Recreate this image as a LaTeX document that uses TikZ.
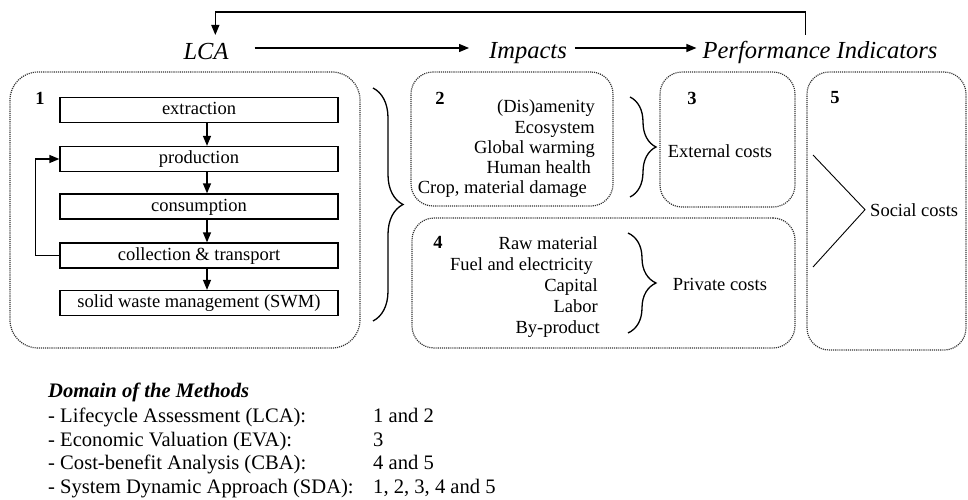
\documentclass[tikz,border=0pt]{standalone}
\usepackage{fontspec}
\setmainfont{Liberation Serif}
\usetikzlibrary{arrows.meta,decorations.pathreplacing}
\begin{document}
\begin{tikzpicture}[x=1pt,y=-1pt,
  main/.style={font=\fontsize{18.5}{22}\selectfont, inner sep=0pt},
  head/.style={font=\fontsize{24.5}{28}\selectfont\itshape, inner sep=0pt, anchor=base},
  num/.style={font=\fontsize{18.5}{22}\selectfont\bfseries, inner sep=0pt, anchor=base},
  item/.style={main, anchor=base east},
  flowbox/.style={draw, line width=1.3pt, minimum width=278pt, minimum height=25pt,
    inner sep=0pt, text height=12.5pt, text depth=3.5pt, font=\fontsize{18.5}{22}\selectfont},
  arr/.style={line width=1.3pt, -{Triangle[length=10pt,width=8pt]}},
  dotbox/.style={draw=black!80, line width=1.2pt, dash pattern=on 1.1pt off 1pt,
    rounded corners=22pt, inner sep=0pt},
  bracestyle/.style={decorate, line width=1.3pt, decoration={brace, amplitude=#1}},
  bottom/.style={font=\fontsize{20.6}{24}\selectfont, inner sep=0pt, anchor=base west},
]
\useasboundingbox (0,0) rectangle (968,500);

% headers
\node[head] (lca) at (206,60) {LCA};
\node[head] (imp) at (528,59) {Impacts};
\node[head] (pi) at (820,59) {Performance Indicators};
\draw[arr] ([xshift=26pt,yshift=12pt]lca.base east) -- ([xshift=-20pt,yshift=11pt]imp.base west);
\draw[arr] ([xshift=8pt,yshift=11pt]imp.base east) -- ([xshift=-6pt,yshift=11pt]pi.base west);
\draw[arr] ([xshift=103pt,yshift=24pt]pi.base west) -- ++(0,-23) -| ([xshift=32pt,yshift=25pt]lca.base west);

% dotted regions
\node[dotbox, rounded corners=28pt, minimum width=350pt, minimum height=276pt] (b1) at (185,210) {};
\node[dotbox, minimum width=202pt, minimum height=134pt] (b2) at (512,139) {};
\node[dotbox, minimum width=135pt, minimum height=135pt] (b3) at (727.5,139.5) {};
\node[dotbox, minimum width=383pt, minimum height=130pt] (b4) at (603.5,283) {};
\node[dotbox, minimum width=159pt, minimum height=278pt] (b5) at (886.5,211) {};

% numbers
\node[num] (n1) at (40,105) {1};
\node[num] (n2) at (440,105) {2};
\node[num] (n3) at (692,105) {3};
\node[num] (n4) at (438,248) {4};
\node[num] (n5) at (835,103) {5};

% flow
\node[flowbox] (ext) at (199,110) {extraction};
\node[flowbox] (prod) at (199,159) {production};
\node[flowbox] (cons) at (199,206.5) {consumption};
\node[flowbox] (coll) at (199,255.5) {collection \& transport};
\node[flowbox] (swm) at (199,303) {solid waste management (SWM)};
\draw[arr] ([xshift=8pt]ext.south) -- ([xshift=8pt]prod.north);
\draw[arr] ([xshift=8pt]prod.south) -- ([xshift=8pt]cons.north);
\draw[arr] ([xshift=8pt]cons.south) -- ([xshift=8pt]coll.north);
\draw[arr] ([xshift=8pt]coll.south) -- ([xshift=8pt]swm.north);
\draw[arr] (coll.west) -- ++(-24,0) |- (prod.west);

% big brace after box 1
\draw[bracestyle=30pt] (373,88) -- (373,321);

% impacts
\node[item] (i1) at (595,113) {(Dis)amenity};
\node[item] (i2) at (595,133) {Ecosystem};
\node[item] (i3) at (595,153) {Global warming};
\node[item] (i4) at (591,173) {Human health};
\node[item] (i5) at (587,193) {Crop, material damage};
\draw[bracestyle=26pt] (630,97) -- (630,197);
\node[main, anchor=base] (extc) at (720,157) {External costs};

% private
\node[item] (p1) at (598,249) {Raw material};
\node[item] (p2) at (593,270) {Fuel and electricity};
\node[item] (p3) at (598,291) {Capital};
\node[item] (p4) at (598,312) {Labor};
\node[item] (p5) at (600,333) {By-product};
\draw[bracestyle=28pt] (628,233) -- (628,333);
\node[main, anchor=base] (privc) at (720,290) {Private costs};

% social
\node[main, anchor=base west] (soc) at (870,216) {Social costs};
\coordinate (s1) at (813,155);
\coordinate (s2) at (813,267);
\draw[line width=0.9pt] (s1) -- ([xshift=-5pt]soc.west) -- (s2);

% bottom legend
\node[bottom, font=\fontsize{20.6}{24}\selectfont\bfseries\itshape] (dom) at (48,397) {Domain of the Methods};
\node[bottom] (m1) at (48,422) {- Lifecycle Assessment (LCA):};
\node[bottom] (m2) at (48,446) {- Economic Valuation (EVA):};
\node[bottom] (m3) at (48,469) {- Cost-benefit Analysis (CBA):};
\node[bottom] (m4) at (48,493) {- System Dynamic Approach (SDA):};
\node[bottom] (v1) at (373,422) {1 and 2};
\node[bottom] (v2) at (373,446) {3};
\node[bottom] (v3) at (373,469) {4 and 5};
\node[bottom] (v4) at (373,493) {1, 2, 3, 4 and 5};
\end{tikzpicture}
\end{document}
